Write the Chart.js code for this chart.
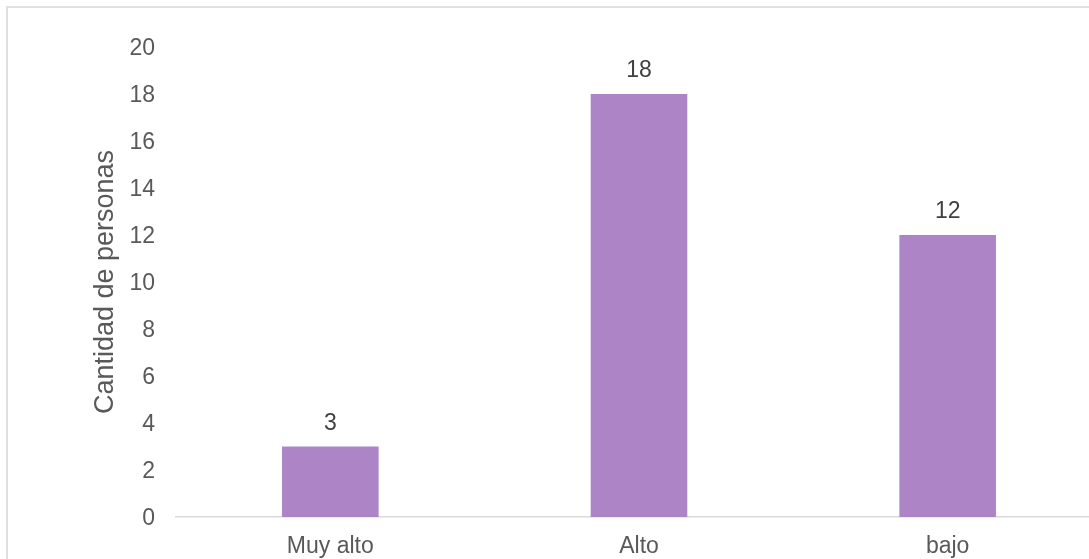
<!DOCTYPE html>
<html>
<head>
<meta charset="utf-8">
<script src="https://cdn.jsdelivr.net/npm/chart.js@4/dist/chart.umd.min.js"></script>
<style>
  html, body { margin: 0; padding: 0; background: #fff; overflow: hidden; width: 1089px; height: 559px; }
  #wrap { position: absolute; left: 0; top: 0; width: 1102px; height: 600px; }
  #frame { position: absolute; left: 6px; top: 6px; width: 1200px; height: 700px; border-left: 2px solid #e0e0e0; border-top: 2px solid #e0e0e0; pointer-events: none; }
</style>
</head>
<body>
<div id="wrap"><canvas id="c"></canvas></div>
<div id="frame"></div>
<script>
const categories = ["Muy alto", "Alto", "bajo"];
const values = [3, 18, 12];
const yTicks = [0, 2, 4, 6, 8, 10, 12, 14, 16, 18, 20];
const yTitle = "Cantidad de personas";

const FONT = "'Liberation Sans', Arial, sans-serif";
const TEXT = "#595959";

const valueLabels = {
  id: 'valueLabels',
  afterDatasetsDraw(chart) {
    const ctx = chart.ctx;
    const meta = chart.getDatasetMeta(0);
    ctx.save();
    ctx.font = "23px " + FONT;
    ctx.fillStyle = "#404040";
    ctx.textAlign = "center";
    ctx.textBaseline = "middle";
    meta.data.forEach((bar, i) => {
      ctx.fillText(String(values[i]), bar.x, bar.y - 23);
    });
    ctx.restore();
  }
};

new Chart(document.getElementById('c'), {
  type: 'bar',
  data: {
    labels: categories,
    datasets: [{
      data: values,
      backgroundColor: '#AD85C6',
      borderWidth: 0,
      barPercentage: 0.313,
      categoryPercentage: 1.0
    }]
  },
  options: {
    responsive: true,
    maintainAspectRatio: false,
    animation: false,
    layout: { padding: { top: 47, right: 0, bottom: 0, left: 0 } },
    plugins: { legend: { display: false }, tooltip: { enabled: false } },
    scales: {
      x: {
        grid: { display: false, drawTicks: false },
        border: { display: true, color: '#D9D9D9', width: 1.5 },
        ticks: { color: TEXT, font: { family: FONT, size: 23 }, padding: 16, maxRotation: 0 },
        afterFit(scale) { scale.height = 83; }
      },
      y: {
        min: 0, max: 20,
        afterBuildTicks(scale) { scale.ticks = yTicks.map(v => ({ value: v })); },
        grid: { display: false, drawTicks: false },
        border: { display: false },
        ticks: { color: TEXT, font: { family: FONT, size: 23 }, padding: 21, labelOffset: 2 },
        title: {
          display: true, text: yTitle, color: TEXT,
          font: { family: FONT, size: 27 },
          padding: { top: 89, bottom: 0 }
        },
        afterFit(scale) { scale.width = 176; }
      }
    }
  },
  plugins: [valueLabels]
});
</script>
</body>
</html>
